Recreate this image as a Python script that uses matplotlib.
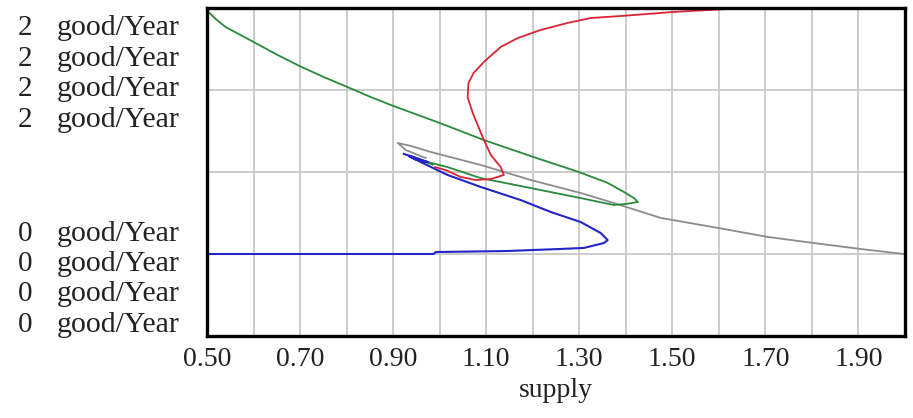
import matplotlib.pyplot as plt
import numpy as np

# phase plots: four flows (good/Year) against supply
green_x = [0.500, 0.503, 0.520, 0.540, 0.600, 0.652, 0.699, 0.751, 0.802, 0.852, 0.901,
           0.953, 1.000, 1.095, 1.202, 1.299, 1.360, 1.396, 1.418, 1.426, 1.400, 1.374,
           1.303, 1.196, 1.088, 1.017, 0.974, 0.950, 0.935, 0.960, 0.985]
green_y = [2.000, 1.976, 1.930, 1.884, 1.793, 1.713, 1.646, 1.579, 1.518, 1.457, 1.402,
           1.348, 1.299, 1.195, 1.091, 1.000, 0.935, 0.878, 0.840, 0.817, 0.805, 0.799,
           0.841, 0.902, 0.963, 1.030, 1.061, 1.085, 1.100, 1.070, 1.045]

grey_x = [0.970, 0.927, 0.910, 0.938, 0.981, 1.088, 1.196, 1.303, 1.374, 1.475, 1.598,
          1.705, 1.804, 1.906, 1.998]
grey_y = [1.085, 1.134, 1.177, 1.159, 1.122, 1.043, 0.951, 0.872, 0.811, 0.720, 0.659,
          0.604, 0.567, 0.530, 0.500]

red_x = [0.990, 1.013, 1.045, 1.077, 1.110, 1.138, 1.131, 1.110, 1.095, 1.071, 1.060,
         1.062, 1.073, 1.095, 1.131, 1.168, 1.217, 1.275, 1.325, 1.389, 1.503, 1.619, 2.000]
red_y = [1.030, 1.012, 0.970, 0.951, 0.957, 0.982, 1.030, 1.104, 1.195, 1.360, 1.457,
         1.543, 1.604, 1.671, 1.762, 1.817, 1.866, 1.909, 1.939, 1.951, 1.976, 1.994, 2.000]

blue_x = [0.923, 0.945, 0.975, 0.950, 0.935, 0.959, 1.017, 1.088, 1.174, 1.239, 1.303,
          1.346, 1.361, 1.353, 1.310, 1.254, 1.142, 0.991, 0.987, 0.500]
blue_y = [1.110, 1.090, 1.060, 1.075, 1.095, 1.061, 0.982, 0.909, 0.829, 0.756, 0.695,
          0.628, 0.585, 0.567, 0.537, 0.530, 0.518, 0.512, 0.500, 0.500]

xticks = [0.5, 0.7, 0.9, 1.1, 1.3, 1.5, 1.7, 1.9]
top_labels = ["2"] * 4
bottom_labels = ["0"] * 4
unit = "good/Year"

W, H = 913, 418
fig = plt.figure(figsize=(W / 100, H / 100), dpi=100)
ax = fig.add_axes([207 / W, (H - 336) / H, (905 - 207) / W, 328 / H])

ax.set_xlim(0.5, 2.0)
ax.set_ylim(0, 2)
for gx in np.arange(0.6, 2.0, 0.1):
    ax.axvline(gx, color="#c8c8c8", lw=1.3, zorder=0)
for gy in [0.5, 1.0, 1.5]:
    ax.axhline(gy, color="#c8c8c8", lw=1.3, zorder=0)

ax.plot(grey_x, grey_y, color="#8c8c8c", lw=1.3)
ax.plot(green_x, green_y, color="#2a8a3a", lw=1.3)
ax.plot(blue_x, blue_y, color="#2424c8", lw=1.5)
ax.plot(red_x, red_y, color="#dc2434", lw=1.3)

for s in ax.spines.values():
    s.set_linewidth(2.4)
    s.set_color("black")

font = "Liberation Serif"
ax.set_yticks([])
ax.set_xticks(xticks)
ax.set_xticklabels(["%.2f" % v for v in xticks], fontsize=20, family=font, color="#222222")
ax.tick_params(axis="x", length=0, pad=8)
ax.set_xlabel("supply", fontsize=20, family=font, color="#222222", labelpad=4)

rows = [28, 59, 89, 120, 234, 264, 294, 325]
for py, num in zip(rows, top_labels + bottom_labels):
    fig.text(18 / W, 1 - py / H, num, fontsize=21, family=font, color="#222222",
             ha="left", va="center")
    fig.text(57 / W, 1 - py / H, unit, fontsize=21.5, family=font, color="#222222",
             ha="left", va="center")

fig.savefig("out.png", dpi=100, facecolor="white")
